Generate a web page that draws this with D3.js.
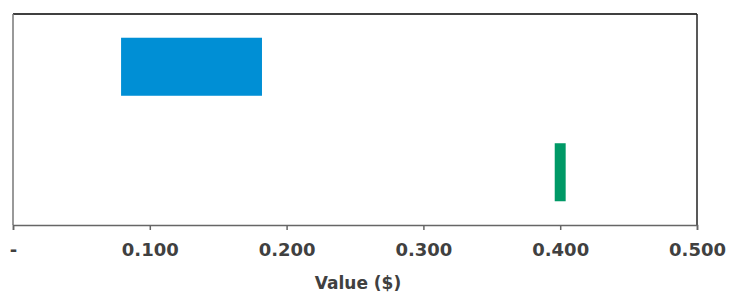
<!DOCTYPE html>
<html>
<head>
<meta charset="utf-8">
<script src="https://cdn.jsdelivr.net/npm/d3@7"></script>
<style>
  body { margin: 0; background: #fff; }
  svg text { font-family: "DejaVu Sans", sans-serif; font-weight: bold; fill: #404040; }
</style>
</head>
<body>
<svg id="chart" width="729" height="295"></svg>
<script>
// floating bars: start / end value per row
const categories = ["Range A", "Range B"]
const lowValues = [0.079, 0.396]
const highValues = [0.182, 0.404]
const barColors = ["#008FD5", "#009966"]
const tickValues = [0, 0.1, 0.2, 0.3, 0.4, 0.5]

const margin = {top: 14, right: 32, bottom: 70, left: 13}
const width = 729 - margin.left - margin.right
const height = 295 - margin.top - margin.bottom

const svg = d3.select("#chart")
const g = svg.append("g").attr("transform", `translate(${margin.left},${margin.top})`)

const x = d3.scaleLinear().domain([0, 0.5]).range([0, width])
const y = d3.scaleBand().domain(categories).range([0, height]).paddingInner(0.45).paddingOuter(0.225)

const rows = categories.map((c, i) => ({cat: c, lo: lowValues[i], hi: highValues[i], color: barColors[i]}))

g.selectAll("rect.bar")
  .data(rows)
  .enter()
  .append("rect")
  .attr("class", "bar")
  .attr("x", d => x(d.lo))
  .attr("width", d => x(d.hi) - x(d.lo))
  .attr("y", d => y(d.cat))
  .attr("height", y.bandwidth())
  .attr("fill", d => d.color)

// frame
g.append("line").attr("x1", 0).attr("x2", width).attr("y1", 0).attr("y2", 0)
  .attr("stroke", "#000").attr("stroke-width", 1.5)
g.append("line").attr("x1", width).attr("x2", width).attr("y1", 0).attr("y2", height)
  .attr("stroke", "#222").attr("stroke-width", 1.5)
g.append("line").attr("x1", 0).attr("x2", 0).attr("y1", 0).attr("y2", height)
  .attr("stroke", "#777").attr("stroke-width", 1.5)

const xAxis = d3.axisBottom(x)
  .tickValues(tickValues)
  .tickSize(5)
  .tickPadding(13)
  .tickFormat(d => d === 0 ? "-" : d3.format(".3f")(d))

const ax = g.append("g").attr("transform", `translate(0,${height})`).call(xAxis)
ax.select(".domain").attr("stroke", "#666").attr("stroke-width", 1.5)
ax.selectAll(".tick line").attr("stroke", "#666").attr("stroke-width", 1.5)
ax.selectAll(".tick text").style("font-size", "18px").attr("fill", "#404040")

g.append("text")
  .attr("x", width / 2 + 3)
  .attr("y", height + 64)
  .attr("text-anchor", "middle")
  .style("font-size", "17px")
  .text("Value ($)")
</script>
</body>
</html>
